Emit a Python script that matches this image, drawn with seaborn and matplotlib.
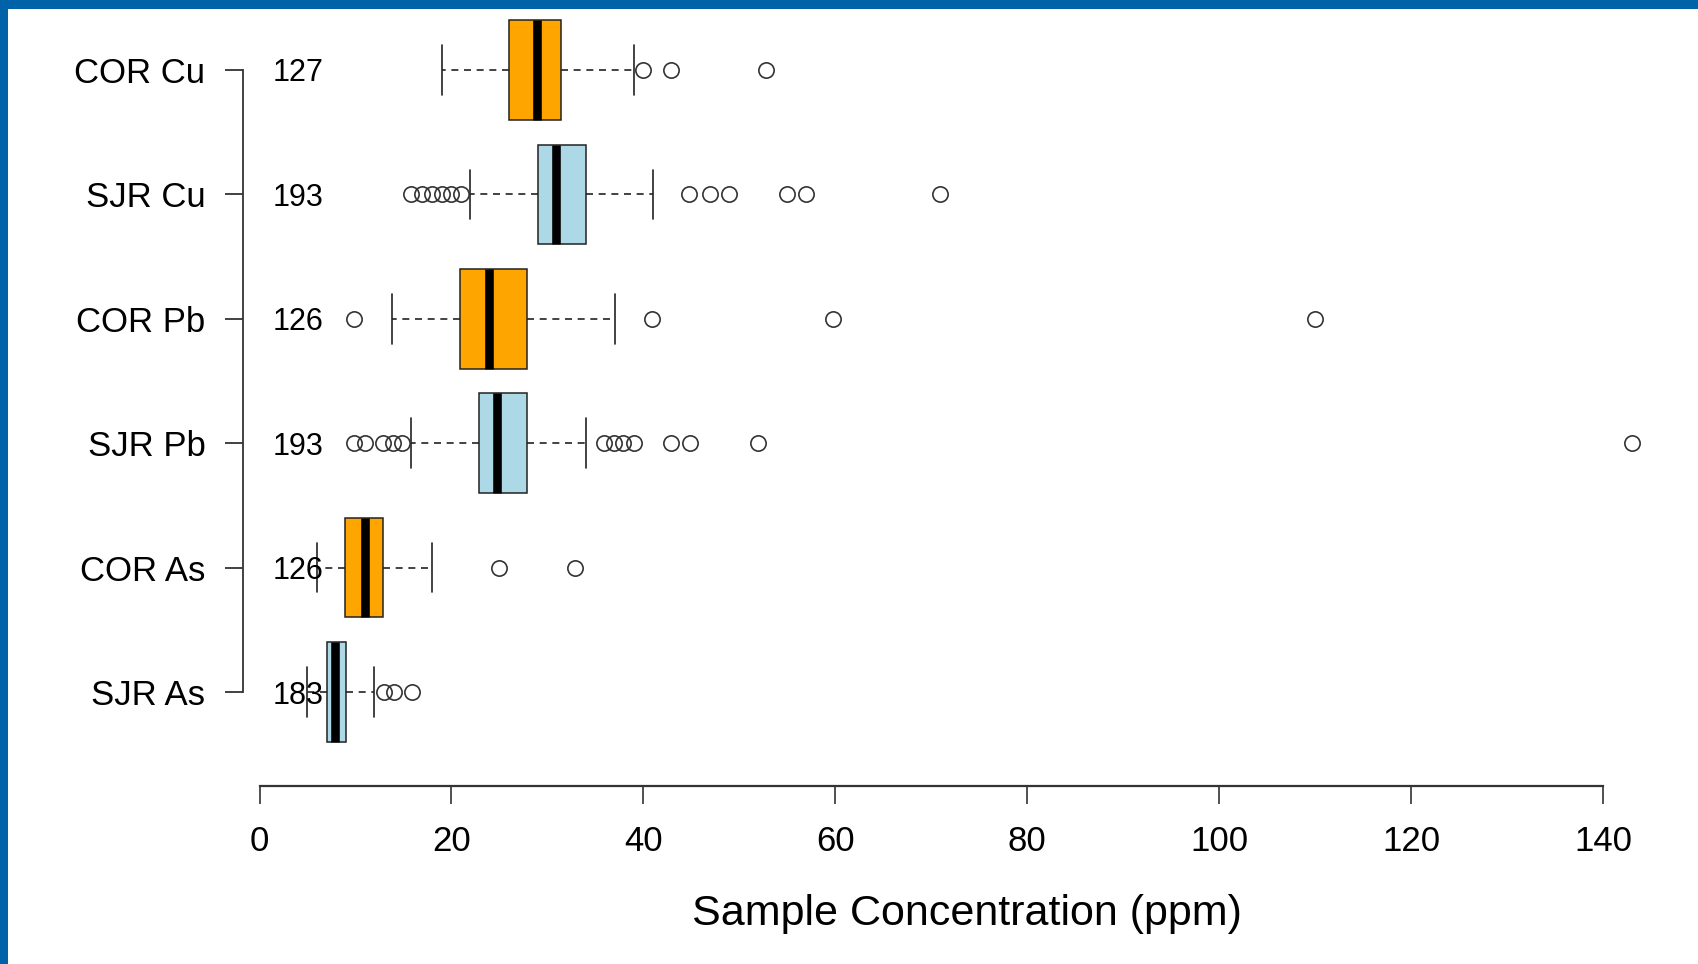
import matplotlib
matplotlib.use("Agg")
import matplotlib.pyplot as plt
from matplotlib.patches import Rectangle
import seaborn as sns

# ---- data ----
groups = ["SJR As", "COR As", "SJR Pb", "COR Pb", "SJR Cu", "COR Cu"]   # bottom -> top
counts = [183, 126, 193, 126, 193, 127]
whis_lo = [5.0, 6.0, 15.8, 13.8, 21.9, 19.0]
q1 = [7.0, 8.9, 22.9, 20.9, 29.0, 26.0]
median = [7.9, 11.0, 24.8, 23.9, 30.9, 28.9]
q3 = [9.0, 12.9, 27.9, 27.9, 34.0, 31.4]
whis_hi = [11.9, 18.0, 34.0, 37.0, 41.0, 39.0]
outliers = [
    [13.0, 14.0, 15.9],
    [25.0, 32.9],
    [9.8, 11.0, 12.9, 13.9, 14.9, 35.9, 36.9, 37.9, 39.0, 42.9, 44.9, 51.9, 143.0],
    [9.8, 40.9, 59.8, 110.0],
    [15.8, 16.9, 18.0, 19.0, 20.0, 21.0, 44.8, 46.9, 48.9, 55.0, 56.9, 70.9],
    [40.0, 42.9, 52.8],
]
box_colors = ["#ADD8E6", "#FFA500", "#ADD8E6", "#FFA500", "#ADD8E6", "#FFA500"]
xticks = [0, 20, 40, 60, 80, 100, 120, 140]
xlabel = "Sample Concentration (ppm)"

sns.set_style("white")
plt.rcParams["font.family"] = ["Liberation Sans", "DejaVu Sans"]
plt.rcParams["text.color"] = "black"
plt.rcParams["axes.labelcolor"] = "black"
plt.rcParams["xtick.color"] = "black"
plt.rcParams["ytick.color"] = "black"

W, H = 1698, 964
fig = plt.figure(figsize=(W / 100, H / 100), dpi=100)
fig.patch.set_facecolor("white")

# axes placement (pixel based)
left_px, right_px = 243, 1690
top_px, bottom_px = 7.8, 754.2
ax = fig.add_axes([left_px / W, 1 - bottom_px / H,
                   (right_px - left_px) / W, (bottom_px - top_px) / H])
ax.set_facecolor("white")

x0_px, px_per_unit = 259.5, 9.596
ax.set_xlim((left_px - x0_px) / px_per_unit, (right_px - x0_px) / px_per_unit)
ax.set_ylim(0.5, len(groups) + 0.5)

positions = list(range(1, len(groups) + 1))
stats = []
for i in range(len(groups)):
    stats.append(dict(med=median[i], q1=q1[i], q3=q3[i],
                      whislo=whis_lo[i], whishi=whis_hi[i],
                      fliers=outliers[i], label=groups[i]))

art = ax.bxp(stats, positions=positions, widths=0.8, orientation="horizontal",
             patch_artist=True, manage_ticks=False, capwidths=0.4,
             boxprops=dict(edgecolor="#222222", linewidth=1.1),
             medianprops=dict(color="black", linewidth=6.2, solid_capstyle="butt"),
             whiskerprops=dict(color="#222222", linewidth=1.2, linestyle=(0, (4.2, 3.4))),
             capprops=dict(color="#222222", linewidth=1.2),
             flierprops=dict(marker="o", markerfacecolor="none",
                             markeredgecolor="#333333", markersize=11,
                             markeredgewidth=1.2, linestyle="none"))
for patch, c in zip(art["boxes"], box_colors):
    patch.set_facecolor(c)

# sample counts
for p, n in zip(positions, counts):
    ax.text(1.4, p, str(n), ha="left", va="center_baseline", fontsize=22, color="black")

# axes styling (R-like detached axes)
for s in ["top", "right"]:
    ax.spines[s].set_visible(False)
ax.spines["left"].set_bounds(1, len(groups))
ax.spines["left"].set_color("#333333")
ax.spines["left"].set_linewidth(1.3)
ax.spines["bottom"].set_position(("outward", 22.9))
ax.spines["bottom"].set_bounds(xticks[0], xticks[-1])
ax.spines["bottom"].set_color("#333333")
ax.spines["bottom"].set_linewidth(1.6)

ax.set_yticks(positions)
ax.set_yticklabels(groups)
ax.set_xticks(xticks)
ax.set_xticklabels([str(t) for t in xticks])
ax.tick_params(axis="y", length=13, width=1.3, color="#333333", pad=14,
               labelsize=25, left=True, labelcolor="black")
ax.tick_params(axis="x", length=13, width=1.2, color="#333333", pad=15,
               labelsize=25, bottom=True, labelcolor="black")
ax.set_xlabel(xlabel, fontsize=31, labelpad=26, color="black")
ax.grid(False)

# blue frame on top and left edges
fig.patches.append(Rectangle((0, 1 - 9 / H), 1, 9 / H, transform=fig.transFigure,
                             facecolor="#0062A8", edgecolor="none", zorder=10))
fig.patches.append(Rectangle((0, 0), 8 / W, 1, transform=fig.transFigure,
                             facecolor="#0062A8", edgecolor="none", zorder=10))

fig.savefig("out.png", dpi=100)
